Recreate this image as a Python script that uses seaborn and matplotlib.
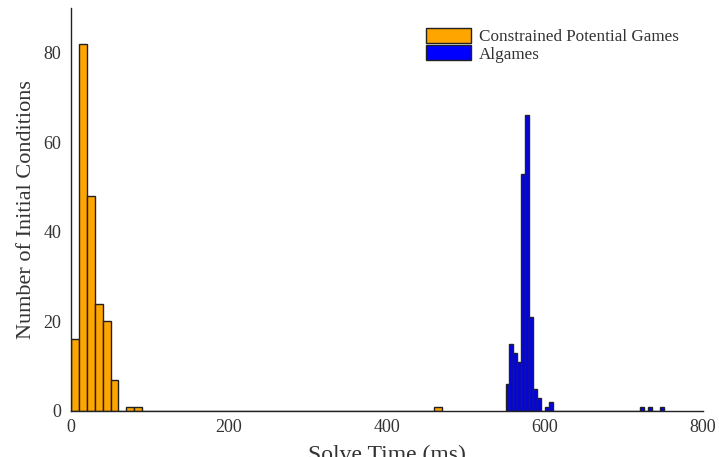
import numpy as np
import pandas as pd
import matplotlib
matplotlib.use("Agg")
import matplotlib.pyplot as plt
import seaborn as sns
from matplotlib.patches import Patch

# Constrained Potential Games: 10 ms bins (left edges) and counts
cpg_bin_left = [0, 10, 20, 30, 40, 50, 70, 80, 460]
cpg_counts = [16, 82, 48, 24, 20, 7, 1, 1, 1]
# Algames: 5 ms bins (left edges) and counts
alg_bin_left = [550, 555, 560, 565, 570, 575, 580, 585, 590, 600, 605, 720, 730, 745]
alg_counts = [6, 15, 13, 11, 53, 66, 21, 5, 3, 1, 2, 1, 1, 1]

labels = ["Constrained Potential Games", "Algames"]
colors = ["#FFA500", "#0000FF"]
x_ticks = [0, 200, 400, 600, 800]
y_ticks = [0, 20, 40, 60, 80]

sns.set_style("white")
plt.rcParams['font.family'] = ['Liberation Serif', 'DejaVu Serif']
text_color = "#333333"

fig = plt.figure(figsize=(7.19, 4.57), dpi=100)
ax = fig.add_axes([0.0988, 0.1007, 0.8790, 0.8818])

cpg = pd.DataFrame({"t": np.array(cpg_bin_left, float) + 5.0, "n": np.array(cpg_counts, float)})
alg = pd.DataFrame({"t": np.array(alg_bin_left, float) + 2.5, "n": np.array(alg_counts, float)})

sns.histplot(data=cpg, x="t", weights="n", binwidth=10, binrange=(0, 470),
             color=colors[0], alpha=1, edgecolor="#222222", linewidth=1.0,
             ax=ax)
sns.histplot(data=alg, x="t", weights="n", binwidth=5, binrange=(550, 750),
             color=colors[1], alpha=1, edgecolor="#222222", linewidth=1.0,
             ax=ax)

ax.set_xlim(0, 800)
ax.set_ylim(0, 90)
ax.set_xticks(x_ticks)
ax.set_yticks(y_ticks)
ax.tick_params(direction="in", length=4, width=0.8, colors="#222222",
               labelcolor=text_color, labelsize=13)
ax.tick_params(axis="y", pad=7)
ax.tick_params(axis="x", pad=6)
for s in ["top", "right"]:
    ax.spines[s].set_visible(False)
for s in ["left", "bottom"]:
    ax.spines[s].set_color("#222222")
    ax.spines[s].set_linewidth(1.0)

ax.set_xlabel("Solve Time (ms)", fontsize=17, color=text_color, labelpad=6)
ax.set_ylabel("Number of Initial Conditions", fontsize=16, color=text_color, labelpad=5)

handles = [Patch(facecolor=c, edgecolor="#222222", linewidth=1.0) for c in colors]
leg = ax.legend(handles, labels, loc="upper left", bbox_to_anchor=(0.562, 0.95),
                frameon=False, fontsize=12.3, handlelength=2.6, handleheight=0.95,
                handletextpad=0.5, labelspacing=0.0, borderaxespad=0.0,
                borderpad=0.0)
for t in leg.get_texts():
    t.set_color(text_color)

fig.savefig("out.png", dpi=100)
